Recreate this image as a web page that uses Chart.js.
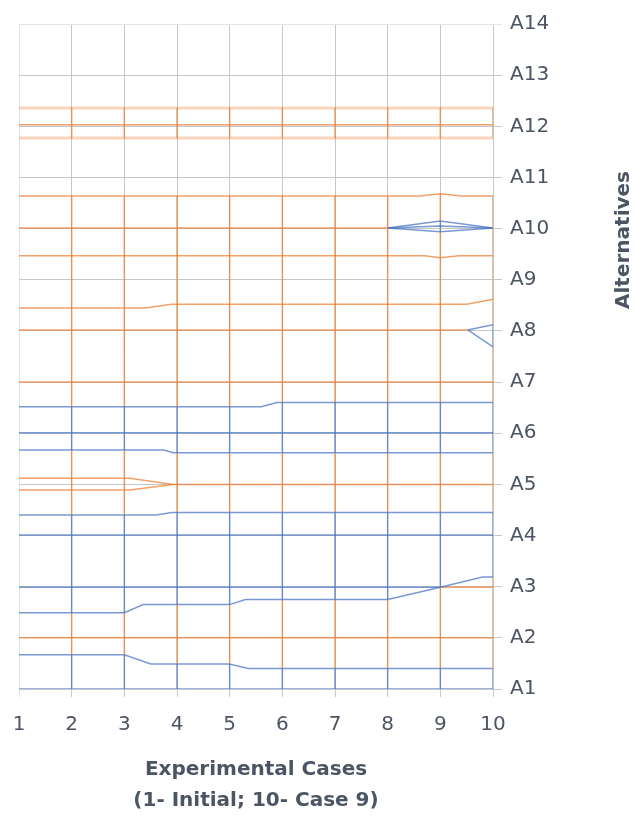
<!DOCTYPE html>
<html>
<head>
<meta charset="utf-8">
<script src="https://cdn.jsdelivr.net/npm/chart.js@4/dist/chart.umd.min.js"></script>
<style>
  html, body { margin: 0; padding: 0; background: #fff; }
  #wrap { width: 636px; height: 816px; position: relative; }
</style>
</head>
<body>
<div id="wrap"><canvas id="contourChart"></canvas></div>
<script>
// x categories and y tick labels
const cases = [1, 2, 3, 4, 5, 6, 7, 8, 9, 10];
const alternatives = ['A1', 'A2', 'A3', 'A4', 'A5', 'A6', 'A7', 'A8', 'A9', 'A10', 'A11', 'A12', 'A13', 'A14'];

// horizontal contour lines : [case, position on the alternatives axis]
const blueA1 = [[1, 1], [10, 1]];
const blueLow = [[1, 1.67], [3, 1.67], [3.5, 1.49], [5, 1.49], [5.35, 1.40], [10, 1.40]];
const orangeA2 = [[1, 2.0], [10, 2.0]];
const blueRise = [[1, 2.49], [3, 2.49], [3.36, 2.65], [5, 2.65], [5.3, 2.75], [8, 2.75], [9, 2.99], [9.8, 3.19], [10, 3.19]];
const blueA3 = [[1, 2.99], [9, 2.99]];
const orangeA3 = [[9, 2.99], [10, 2.99]];
const blueA4 = [[1, 4.01], [10, 4.01]];
const blueA4high = [[1, 4.40], [3.6, 4.40], [3.9, 4.45], [10, 4.45]];
const orangeA5low = [[1, 4.89], [3.1, 4.89], [3.93, 5.0], [10, 5.0]];
const orangeA5high = [[1, 5.12], [3.1, 5.12], [3.93, 5.0]];
const blueA6low = [[1, 5.67], [3.75, 5.67], [3.93, 5.62], [10, 5.62]];
const blueA6 = [[1, 6.01], [10, 6.01]];
const blueA6high = [[1, 6.52], [5.6, 6.52], [5.9, 6.60], [10, 6.60]];
const orangeA7 = [[1, 7.0], [10, 7.0]];
const orangeA8 = [[1, 8.02], [9.52, 8.02]];
const blueA8up = [[9.52, 8.02], [10, 8.12]];
const blueA8down = [[9.52, 8.02], [10, 7.69]];
const orangeA8high = [[1, 8.45], [3.4, 8.45], [3.9, 8.52], [9.5, 8.52], [10, 8.62]];
const orangeA9high = [[1, 9.47], [8.7, 9.47], [9, 9.43], [9.35, 9.47], [10, 9.47]];
const orangeA10 = [[1, 10.01], [8, 10.01]];
const blueA10top = [[8, 10.01], [9, 10.15], [10, 10.01]];
const blueA10mid = [[8, 10.01], [9, 10.05], [10, 10.01]];
const blueA10bot = [[8, 10.01], [9, 9.94], [10, 10.01]];
const orangeA11low = [[1, 10.64], [8.6, 10.64], [9, 10.68], [9.4, 10.64], [10, 10.64]];
const orangeA12low = [[1, 11.77], [10, 11.77]];
const orangeA12 = [[1, 12.03], [10, 12.03]];
const orangeA12high = [[1, 12.36], [10, 12.36]];

// vertical pieces at each case : [from, to, colour]
const caseBands = {
  2: [[1, 1.67, 'b'], [1.67, 2.49, 'o'], [2.49, 4.40, 'b'], [4.40, 5.67, 'o'], [5.67, 6.52, 'b'], [6.52, 10.64, 'o'], [11.77, 12.36, 'o']],
  3: [[1, 1.67, 'b'], [1.67, 2.49, 'o'], [2.49, 4.40, 'b'], [4.40, 5.67, 'o'], [5.67, 6.52, 'b'], [6.52, 10.64, 'o'], [11.77, 12.36, 'o']],
  4: [[1, 1.49, 'b'], [1.49, 2.65, 'o'], [2.65, 4.45, 'b'], [4.45, 5.62, 'o'], [5.62, 6.52, 'b'], [6.52, 10.64, 'o'], [11.77, 12.36, 'o']],
  5: [[1, 1.49, 'b'], [1.49, 2.65, 'o'], [2.65, 4.45, 'b'], [4.45, 5.62, 'o'], [5.62, 6.52, 'b'], [6.52, 10.64, 'o'], [11.77, 12.36, 'o']],
  6: [[1, 1.40, 'b'], [1.40, 2.75, 'o'], [2.75, 4.45, 'b'], [4.45, 5.62, 'o'], [5.62, 6.60, 'b'], [6.60, 10.64, 'o'], [11.77, 12.36, 'o']],
  7: [[1, 1.40, 'b'], [1.40, 2.75, 'o'], [2.75, 4.45, 'b'], [4.45, 5.62, 'o'], [5.62, 6.60, 'b'], [6.60, 10.64, 'o'], [11.77, 12.36, 'o']],
  8: [[1, 1.40, 'b'], [1.40, 2.75, 'o'], [2.75, 4.45, 'b'], [4.45, 5.62, 'o'], [5.62, 6.60, 'b'], [6.60, 10.64, 'o'], [11.77, 12.36, 'o']],
  9: [[1, 1.40, 'b'], [1.40, 2.99, 'o'], [2.99, 4.45, 'b'], [4.45, 5.62, 'o'], [5.62, 6.60, 'b'], [6.60, 9.94, 'o'], [9.94, 10.15, 'b'], [10.15, 10.68, 'o'], [11.77, 12.36, 'o']],
  10: [[1, 1.40, 'b'], [1.40, 3.19, 'o'], [3.19, 4.45, 'b'], [4.45, 5.62, 'o'], [5.62, 6.60, 'b'], [6.60, 7.69, 'o'], [7.69, 8.12, 'b'], [8.12, 10.64, 'o'], [11.77, 12.36, 'o']]
};

const BLUE = 'rgba(68, 114, 196, 0.72)';
const ORANGE = 'rgba(237, 125, 49, 0.72)';
const ORANGE_LIGHT = 'rgba(237, 125, 49, 0.32)';
const TEXT = '#4b5563';

function line(points, color, width) {
  return {
    data: points.map(p => ({ x: p[0], y: p[1] })),
    borderColor: color,
    borderWidth: width || 1.5,
    showLine: true,
    pointRadius: 0,
    fill: false,
    tension: 0
  };
}

const datasets = [];

// vertical pieces first so the horizontal lines sit on top
Object.keys(caseBands).forEach(c => {
  caseBands[c].forEach(band => {
    const col = band[2] === 'b' ? BLUE : ORANGE;
    datasets.push(line([[+c, band[0]], [+c, band[1]]], col, 1.5));
  });
});

[
  [blueA1, BLUE], [blueLow, BLUE], [orangeA2, ORANGE], [blueRise, BLUE],
  [blueA3, BLUE], [orangeA3, ORANGE], [blueA4, BLUE], [blueA4high, BLUE],
  [orangeA5low, ORANGE], [orangeA5high, ORANGE], [blueA6low, BLUE], [blueA6, BLUE],
  [blueA6high, BLUE], [orangeA7, ORANGE], [orangeA8, ORANGE], [blueA8up, BLUE],
  [blueA8down, BLUE], [orangeA8high, ORANGE], [orangeA9high, ORANGE], [orangeA10, ORANGE],
  [blueA10top, BLUE], [blueA10mid, BLUE], [blueA10bot, BLUE], [orangeA11low, ORANGE],
  [orangeA12, ORANGE]
].forEach(d => datasets.push(line(d[0], d[1])));

datasets.push(line(orangeA12low, ORANGE_LIGHT, 3));
datasets.push(line(orangeA12high, ORANGE_LIGHT, 3));

// grid : outer edges are paler
function gridColor(ctx, edges) {
  const v = ctx.tick ? ctx.tick.value : null;
  return edges.includes(v) ? '#e2e5ec' : '#c6c6c6';
}

// y title reads bottom to top, drawn by hand
const sideTitle = {
  id: 'sideTitle',
  afterDraw(chart) {
    const ctx = chart.ctx;
    ctx.save();
    ctx.translate(624, 240);
    ctx.rotate(-Math.PI / 2);
    ctx.font = 'bold 20px "DejaVu Sans"';
    ctx.fillStyle = TEXT;
    ctx.textAlign = 'center';
    ctx.textBaseline = 'middle';
    ctx.fillText('Alternatives', 0, 0);
    ctx.restore();
  }
};

new Chart(document.getElementById('contourChart'), {
  type: 'scatter',
  data: { datasets: datasets },
  plugins: [sideTitle],
  options: {
    responsive: true,
    maintainAspectRatio: false,
    animation: false,
    layout: { padding: { left: 19, top: 24, right: 0, bottom: 0 } },
    plugins: {
      legend: { display: false },
      tooltip: { enabled: false }
    },
    scales: {
      x: {
        type: 'linear',
        min: 1,
        max: 10,
        afterFit: scale => {
          scale.height = 127;
          scale.paddingLeft = 0;
          scale.paddingRight = 0;
        },
        afterBuildTicks: scale => { scale.ticks = cases.map(v => ({ value: v })); },
        ticks: {
          color: TEXT,
          font: { family: 'DejaVu Sans', size: 20 },
          padding: 16
        },
        grid: {
          color: ctx => gridColor(ctx, [1]),
          tickLength: 8
        },
        border: { display: false },
        title: {
          display: true,
          text: ['Experimental Cases', '(1- Initial; 10- Case 9)'],
          color: TEXT,
          font: { family: 'DejaVu Sans', size: 20, weight: 'bold', lineHeight: 1.55 },
          padding: { top: 0, bottom: 0 }
        }
      },
      y: {
        type: 'linear',
        position: 'right',
        min: 1,
        max: 14,
        afterFit: scale => { scale.width = 143; },
        ticks: {
          stepSize: 1,
          color: TEXT,
          font: { family: 'DejaVu Sans', size: 20 },
          padding: 8,
          callback: v => alternatives[v - 1]
        },
        grid: {
          color: ctx => gridColor(ctx, [14]),
          tickLength: 9
        },
        border: { display: false }
      }
    }
  }
});
</script>
</body>
</html>
